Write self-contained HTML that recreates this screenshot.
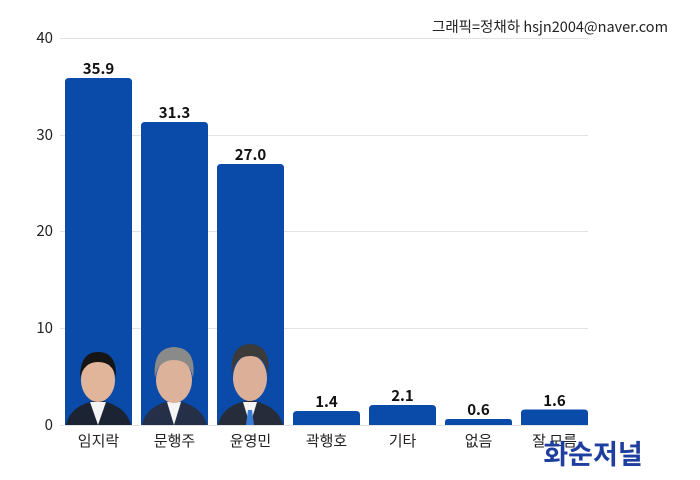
<!DOCTYPE html>
<html><head><meta charset="utf-8"><style>
html,body{margin:0;padding:0;background:#fff;}
svg{display:block;font-family:"Noto Sans CJK KR","Liberation Sans",sans-serif;}
</style></head><body>
<svg width="700" height="480" viewBox="0 0 700 480" xmlns="http://www.w3.org/2000/svg">
<rect width="700" height="480" fill="#fff"/>
<g stroke="#e3e3e3" stroke-width="1">
<line x1="60" y1="38.5" x2="588" y2="38.5"/>
<line x1="60" y1="135.5" x2="588" y2="135.5"/>
<line x1="60" y1="231.5" x2="588" y2="231.5"/>
<line x1="60" y1="328.5" x2="588" y2="328.5"/>
<line x1="60" y1="425.5" x2="588" y2="425.5"/>
</g>
<g font-size="15" fill="#222" text-anchor="end">
<text x="53" y="43">40</text><text x="53" y="140">30</text><text x="53" y="236">20</text><text x="53" y="333">10</text><text x="53" y="430">0</text>
</g>
<text x="668" y="32" font-size="14.5" fill="#222" text-anchor="end">그래픽=정채하 hsjn2004@naver.com</text>
<g fill="#0a4aa8">
<path d="M65,425 V82 Q65,78 69,78 H128 Q132,78 132,82 V425 Z"/>
<path d="M141,425 V126 Q141,122 145,122 H204 Q208,122 208,126 V425 Z"/>
<path d="M217,425 V168 Q217,164 221,164 H280 Q284,164 284,168 V425 Z"/>
<path d="M293,425 V415 Q293,411 297,411 H356 Q360,411 360,415 V425 Z"/>
<path d="M369,425 V409 Q369,405 373,405 H432 Q436,405 436,409 V425 Z"/>
<path d="M445,425 V422 Q445,419 448,419 H509 Q512,419 512,422 V425 Z"/>
<path d="M521,425 V413 Q521,409.5 525,409.5 H584 Q588,409.5 588,413 V425 Z"/>
</g>
<g>
<path d="M66,425 Q70,405 98,400 Q126,405 131,425 Z" fill="#1c2433"/>
<path d="M90,402 L98,425 L106,402 Z" fill="#f4f4f4"/>
<ellipse cx="98" cy="380" rx="17" ry="22" fill="#e0b59a"/>
<path d="M80,378 Q80,352 98,352 Q117,352 116,378 Q113,362 98,362 Q84,362 80,378Z" fill="#151515"/>
<path d="M142,425 Q146,405 174,400 Q202,405 207,425 Z" fill="#253048"/>
<path d="M167,402 L174,425 L181,402 Z" fill="#f4f4f4"/>
<ellipse cx="174" cy="380" rx="18" ry="23" fill="#ddb29a"/>
<path d="M155,378 Q152,348 174,347 Q197,348 193,378 Q190,360 174,360 Q158,360 155,378Z" fill="#8a8a8a"/>
<path d="M218,425 Q222,405 250,400 Q278,405 283,425 Z" fill="#262c3a"/>
<path d="M243,402 L250,425 L257,402 Z" fill="#f4f4f4"/>
<path d="M248,410 L252,410 L254,425 L246,425Z" fill="#3a7bd5"/>
<ellipse cx="250" cy="378" rx="17" ry="23" fill="#dcb098"/>
<path d="M232,376 Q229,345 250,344 Q272,345 268,376 Q266,356 250,356 Q234,356 232,376Z" fill="#3b3b3b"/>
</g>
<g font-size="15" font-weight="bold" fill="#111" text-anchor="middle">
<text x="98.5" y="74">35.9</text><text x="174.5" y="118">31.3</text><text x="250.5" y="160">27.0</text>
<text x="326.5" y="407">1.4</text><text x="402.5" y="401">2.1</text><text x="478.5" y="415">0.6</text><text x="554.5" y="406">1.6</text>
</g>
<g font-size="15" fill="#222" text-anchor="middle">
<text x="98.5" y="446">임지락</text><text x="174.5" y="446">문행주</text><text x="250.5" y="446">윤영민</text>
<text x="326.5" y="446">곽행호</text><text x="402.5" y="446">기타</text><text x="478.5" y="446">없음</text><text x="554.5" y="446">잘 모름</text>
</g>
<text x="593" y="464" font-size="27" font-weight="bold" fill="#1f3fa0" text-anchor="middle">화순저널</text>
</svg>
</body></html>
